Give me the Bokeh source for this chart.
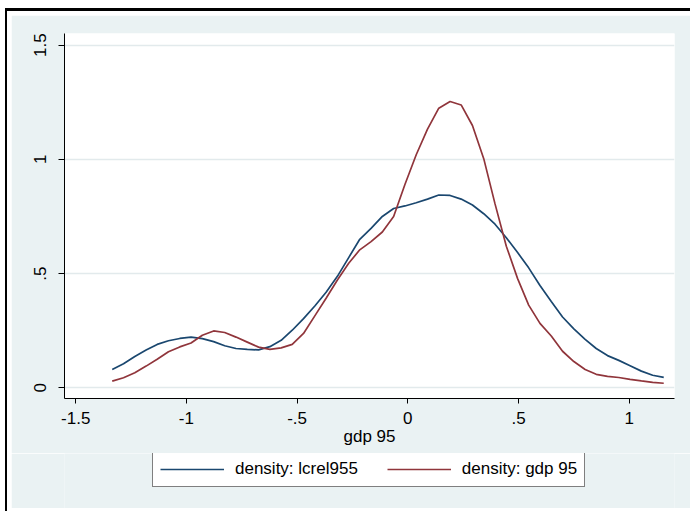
from bokeh.plotting import figure
from bokeh.layouts import column
from bokeh.models import Range1d, FixedTicker, Legend, LegendItem
from bokeh.embed import file_html
from bokeh.resources import INLINE

# ---- data (kernel density estimates) ----
x_grid = [-1.335, -1.284, -1.233, -1.182, -1.132, -1.081, -1.030, -0.979, -0.928, -0.877,
          -0.827, -0.776, -0.725, -0.674, -0.623, -0.572, -0.522, -0.471, -0.420, -0.369,
          -0.318, -0.267, -0.217, -0.166, -0.115, -0.064, -0.013, 0.038, 0.089, 0.140,
          0.191, 0.241, 0.292, 0.343, 0.394, 0.445, 0.496, 0.546, 0.597, 0.648,
          0.699, 0.750, 0.801, 0.851, 0.902, 0.953, 1.004, 1.055, 1.106, 1.156]

density_lcrel955 = [0.080, 0.105, 0.137, 0.165, 0.190, 0.206, 0.216, 0.222, 0.215, 0.202,
                    0.184, 0.172, 0.168, 0.166, 0.180, 0.208, 0.252, 0.303, 0.358, 0.418,
                    0.488, 0.570, 0.650, 0.698, 0.750, 0.785, 0.796, 0.810, 0.826, 0.844,
                    0.842, 0.826, 0.800, 0.762, 0.716, 0.657, 0.592, 0.525, 0.448, 0.378,
                    0.310, 0.258, 0.212, 0.172, 0.141, 0.120, 0.097, 0.073, 0.055, 0.046]

density_gdp95 = [0.029, 0.044, 0.066, 0.095, 0.125, 0.158, 0.179, 0.196, 0.230, 0.249,
                 0.242, 0.222, 0.200, 0.178, 0.168, 0.175, 0.190, 0.238, 0.315, 0.392,
                 0.472, 0.545, 0.604, 0.640, 0.682, 0.750, 0.890, 1.020, 1.132, 1.224,
                 1.253, 1.238, 1.148, 1.003, 0.805, 0.620, 0.478, 0.362, 0.282, 0.227,
                 0.160, 0.115, 0.080, 0.059, 0.050, 0.045, 0.037, 0.030, 0.024, 0.020]

series_labels = ["density: lcrel955", "density: gdp 95"]
x_title = "gdp 95"
x_ticks = [-1.5, -1.0, -0.5, 0.0, 0.5, 1.0]
x_tick_labels = ["-1.5", "-1", "-.5", "0", ".5", "1"]
y_ticks = [0.0, 0.5, 1.0, 1.5]
y_tick_labels = ["0", ".5", "1", "1.5"]

# ---- style ----
BG = "#EAF2F3"
NAVY = "#1a476f"
MAROON = "#90353b"
FONT = "Liberation Sans"
FS = "17px"
W = 679          # canvas width (page x 11..690)
H_MAIN = 438     # main graph canvas (page y 15..453)
H_LEG = 55       # legend strip canvas (page y 453..508)

p = figure(width=W, height=H_MAIN, output_backend="svg", toolbar_location=None,
           x_range=Range1d(-1.5506, 1.2046), y_range=Range1d(-0.0468, 1.5508),
           min_border_left=53, min_border_right=16, min_border_top=18, min_border_bottom=55)
p.border_fill_color = BG
p.background_fill_color = "white"
p.outline_line_color = None

r1 = p.line(x_grid, density_lcrel955, line_color=NAVY, line_width=1.7)
r2 = p.line(x_grid, density_gdp95, line_color=MAROON, line_width=1.7)

# axes
p.xaxis.ticker = FixedTicker(ticks=x_ticks)
p.xaxis.major_label_overrides = dict(zip(x_ticks, x_tick_labels))
p.yaxis.ticker = FixedTicker(ticks=y_ticks)
p.yaxis.major_label_overrides = dict(zip(y_ticks, y_tick_labels))
p.yaxis.major_label_orientation = "vertical"
for ax in (p.xaxis, p.yaxis):
    ax.axis_line_color = "black"
    ax.axis_line_width = 1
    ax.major_tick_line_color = "black"
    ax.major_tick_in = 0
    ax.minor_tick_line_color = None
    ax.major_label_text_font = FONT
    ax.major_label_text_font_size = FS
    ax.major_label_text_color = "black"
p.xaxis.major_tick_out = 5
p.yaxis.major_tick_out = 6
p.xaxis.major_label_standoff = 8
p.yaxis.major_label_standoff = 12
p.xaxis.axis_label = x_title
p.xaxis.axis_label_text_font = FONT
p.xaxis.axis_label_text_font_size = FS
p.xaxis.axis_label_text_font_style = "normal"
p.xaxis.axis_label_text_color = "black"
p.xaxis.axis_label_standoff = 0

p.xgrid.visible = False
p.ygrid.ticker = FixedTicker(ticks=y_ticks)
p.ygrid.grid_line_color = "#E2EAEC"
p.ygrid.grid_line_width = 1.5

# ---- legend strip below the graph (same background) ----
# the series are drawn here too, but the view window is placed away from them,
# so only their legend keys show
pl = figure(width=W, height=H_LEG, output_backend="svg", toolbar_location=None,
            x_axis_location=None, y_axis_location=None,
            x_range=Range1d(10, 11), y_range=Range1d(10, 11),
            min_border_left=0, min_border_right=0, min_border_top=0, min_border_bottom=0)
pl.border_fill_color = BG
pl.background_fill_color = BG
pl.outline_line_color = None
pl.grid.visible = False
k1 = pl.line(x_grid, density_lcrel955, line_color=NAVY, line_width=1.7)
k2 = pl.line(x_grid, density_gdp95, line_color=MAROON, line_width=1.7)

legend = Legend(items=[LegendItem(label=series_labels[0], renderers=[k1]),
                       LegendItem(label=series_labels[1], renderers=[k2])],
                orientation="horizontal", location=(88, 21), margin=0,
                padding=7, spacing=29, glyph_width=64, glyph_height=16,
                label_standoff=11, label_height=16,
                label_text_font=FONT, label_text_font_size=FS, label_text_color="black",
                border_line_color="black", border_line_width=1,
                background_fill_color="white", background_fill_alpha=1)
pl.add_layout(legend, "center")

# window frame around the graph: white margin, black line at top/left
page = column(p, pl, spacing=0,
              styles={"margin-top": "8px", "margin-left": "5px",
                      "border-top": "3px solid black", "border-left": "2px solid black",
                      "padding-top": "4px", "padding-left": "4px", "padding-bottom": "3px",
                      "background-color": "white"})

open("out.html", "w").write(file_html(page, INLINE))
